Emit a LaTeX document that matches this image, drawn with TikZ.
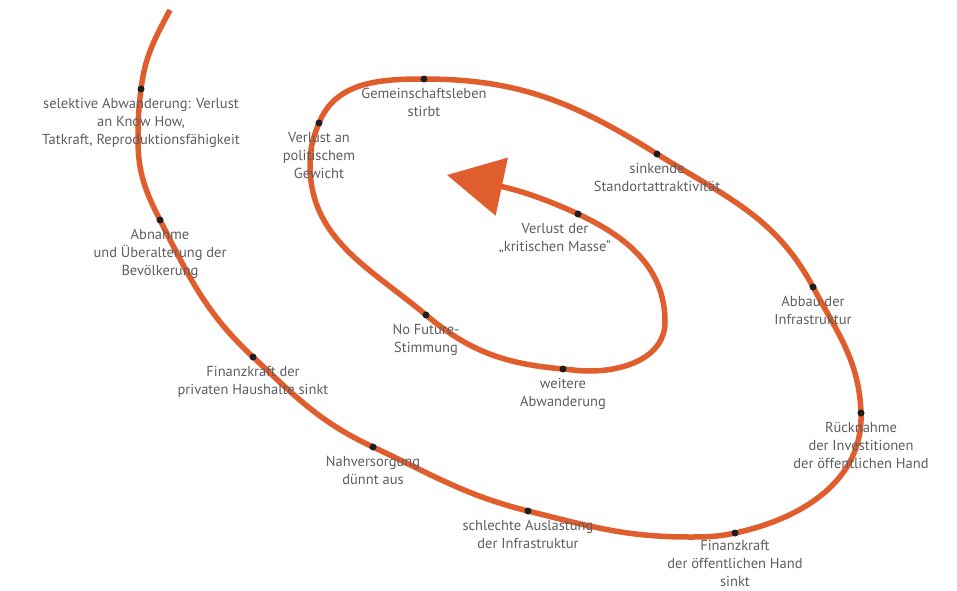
\documentclass[tikz,border=0pt]{standalone}
\usepackage{fontspec}
\setmainfont{PT Sans}
\usepackage{xcolor}
\usepackage{tikz}
\usetikzlibrary{arrows.meta,positioning}
\definecolor{rust}{HTML}{E05D2D}
\definecolor{ink}{HTML}{1E1E1E}
\definecolor{slate}{HTML}{5E5E60}
\tikzset{
  every node/.style={font=\fontsize{14.5}{18}\selectfont,text=slate},
  dot/.style={circle,fill=ink,inner sep=0pt,minimum size=7pt},
  caption/.style={align=center,inner sep=0pt},
  spiral/.style={draw=rust,line width=5.5pt,-{Triangle[length=56pt,width=58pt]}}
}
\begin{document}
\begin{tikzpicture}[x=1pt,y=1pt,node distance=5pt]
  \useasboundingbox (0,0) rectangle (957,590);
  % stations along the spiral
  \coordinate (p1) at (141,501);
  \coordinate (p2) at (160,370);
  \coordinate (p3) at (253,233);
  \coordinate (p4) at (373,143);
  \coordinate (p5) at (528,79);
  \coordinate (p6) at (735,57);
  \coordinate (p7) at (861,177);
  \coordinate (p8) at (813,303);
  \coordinate (p9) at (657,436);
  \coordinate (p10) at (424,511);
  \coordinate (p11) at (319,467);
  \coordinate (p12) at (426,275);
  \coordinate (p13) at (563,221);
  \coordinate (p14) at (578,376);
  % turning points
  \coordinate (start) at (170,580);
  \coordinate (w1) at (138,450);
  \coordinate (w2) at (690,53);
  \coordinate (w3) at (310,425);
  \coordinate (w4) at (590,219);
  \coordinate (w5) at (665,268);
  \coordinate (tip) at (447,415);

  \draw[spiral] (start) to[out=242,in=83] (p1) to[out=263,in=90] (w1)
    to[out=270,in=117] (p2) to[out=297,in=137] (p3) to[out=317,in=155] (p4)
    to[out=335,in=166] (p5) to[out=346,in=180] (w2) to[out=0,in=192] (p6)
    to[out=12,in=272] (p7) to[out=92,in=298] (p8) to[out=118,in=328] (p9)
    to[out=148,in=0] (p10) to[out=180,in=68] (p11) to[out=248,in=90] (w3)
    to[out=270,in=140] (p12) to[out=320,in=175] (p13) to[out=355,in=180] (w4)
    to[out=0,in=270] (w5) to[out=90,in=335] (p14) to[out=155,in=348] (tip);

  \foreach \i in {1,...,14}
    \node[dot] (d\i) at (p\i) {};

  % labels
  \node[caption,below=of d1] {selektive Abwanderung: Verlust\\an Know How,\\Tatkraft, Reproduktionsfähigkeit};
  \node[caption,below=of d2] {Abnahme\\und Überalterung der\\Bevölkerung};
  \node[caption,below=of d3] {Finanzkraft der\\privaten Haushalte sinkt};
  \node[caption,below=of d4] {Nahversorgung\\dünnt aus};
  \node[caption,below=of d5] {schlechte Auslastung\\der Infrastruktur};
  \node[caption,below=3pt of d6] {Finanzkraft\\der öffentlichen Hand\\sinkt};
  \node[caption,below=of d7] {Rücknahme\\der Investitionen\\der öffentlichen Hand};
  \node[caption,below=of d8] {Abbau der\\Infrastruktur};
  \node[caption,below=of d9] {sinkende\\Standortattraktivität};
  \node[caption,below=of d10] {Gemeinschaftsleben\\stirbt};
  \node[caption,below=of d11] {Verlust an\\politischem\\Gewicht};
  \node[caption,below=of d12] {No Future-\\Stimmung};
  \node[caption,below=of d13] {weitere\\Abwanderung};
  \node[caption,below=of d14,xshift=-23pt] {Verlust der\\„kritischen Masse“};
\end{tikzpicture}
\end{document}
